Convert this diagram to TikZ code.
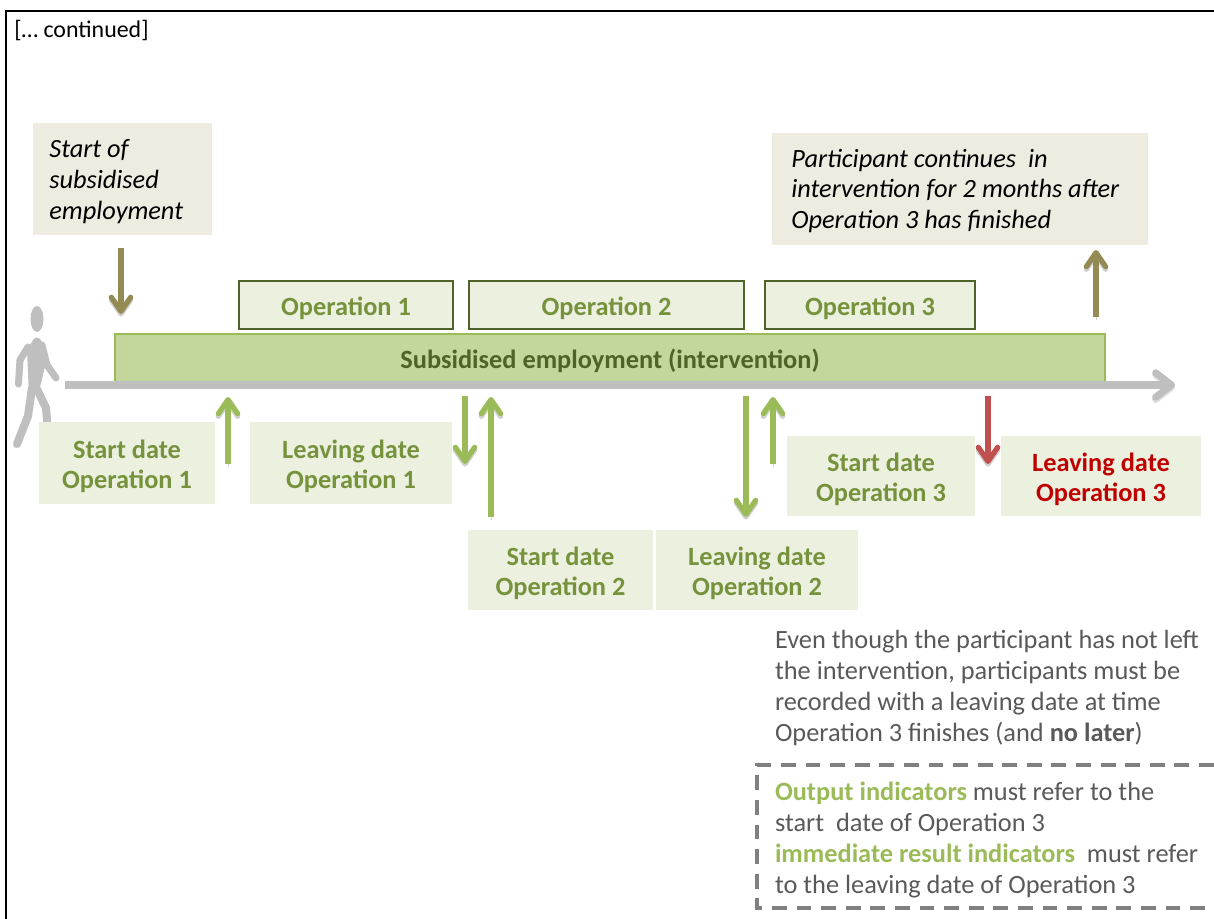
\documentclass[tikz,border=0pt]{standalone}
\usepackage{fontspec}
\setmainfont{Carlito}
\usetikzlibrary{calc,positioning,arrows.meta}
\definecolor{boxgreen}{HTML}{EBF1DE}
\definecolor{boxbeige}{HTML}{EEECE1}
\definecolor{bargreen}{HTML}{C3D69B}
\definecolor{linegreen}{HTML}{9BBB59}
\definecolor{textgreen}{HTML}{76923C}
\definecolor{darkgreen}{HTML}{4F6228}
\definecolor{arrowbrown}{HTML}{948A54}
\definecolor{arrowred}{HTML}{C0504D}
\definecolor{textred}{HTML}{C00000}
\definecolor{textgray}{HTML}{595959}
\definecolor{personcol}{HTML}{BFBFBF}
\tikzset{
  px/.style={x=0.02cm,y=-0.02cm},
  flat/.style={inner sep=0pt,outer sep=0pt,align=center,font=\fontsize{15}{17.4}\selectfont\bfseries,text=textgreen},
  datebox/.style={flat,fill=boxgreen,execute at begin node={\rule{0pt}{31.5pt}}},
  opbox/.style={flat,fill=boxgreen,draw=darkgreen,line width=0.8pt,execute at begin node={\rule{0pt}{14pt}}},
  notebox/.style={inner sep=0pt,outer sep=0pt,fill=boxbeige},
  notetext/.style={inner sep=0pt,anchor=west,align=left,font=\fontsize{15}{17.6}\selectfont\itshape},
  plaintext/.style={inner sep=0pt,outer sep=0pt,anchor=north west,align=left,text=textgray,font=\fontsize{15}{17.7}\selectfont},
  marker/.style={line width=3.2pt,-{Straight Barb[round,length=8pt,width=11pt,line width=3pt]},
    preaction={draw=black!18,transform canvas={yshift=-1.5pt}}},
  limb/.style={draw=personcol,line cap=round,line join=round}
}
\begin{document}
\begin{tikzpicture}[px]
\useasboundingbox (0,0) rectangle (1214,919);
% frame
\draw[line width=1.4pt](6,919)--(6,11)--(1214,11);
\node[inner sep=0pt,anchor=west,font=\fontsize{13.6}{16}\selectfont](cont)at(14,30){[… continued]};
% person
\fill[personcol](37,319)ellipse(6.5 and 13);
\fill[personcol,rounded corners=3pt](36,335)--(43,342)--(46,362)--(40,388)--(29,396)--(27,350)--cycle;
\draw[limb,line width=4pt](28,347)--(20,360)--(18.5,384);
\draw[limb,line width=4pt](42,345)--(47,365)--(56,378);
\draw[limb,line width=4.6pt](32,388)--(28,416)--(17,444);
\draw[limb,line width=4.6pt](36,387)--(46,408)--(49,443);
% notes on top
\node[notebox,minimum width=179*0.02cm,minimum height=112*0.02cm](startnote)at(122.5,179){};
\node[notetext](startnotetext)at(49,182){Start of\\subsidised\\employment};
\node[notebox,minimum width=376*0.02cm,minimum height=112*0.02cm](contnote)at(960,189){};
\node[notetext](contnotetext)at(791,191){Participant continues~ in\\intervention for 2 months after\\Operation 3 has finished};
% operations
\node[opbox,minimum width=214*0.02cm,minimum height=48*0.02cm](op1)at(346,305){Operation 1};
\node[opbox,minimum width=275*0.02cm,minimum height=48*0.02cm](op2)at(606.5,305){Operation 2};
\node[opbox,minimum width=210*0.02cm,minimum height=48*0.02cm](op3)at(870,305){Operation 3};
% intervention and timeline
\node[opbox,fill=bargreen,draw=linegreen,text=darkgreen,minimum width=990*0.02cm,minimum height=48*0.02cm](bar)at(610,358){Subsidised employment (intervention)};
\coordinate(tstart)at(65,385);
\coordinate(tend)at(1175,385);
\draw[personcol,line width=4.6pt,-{Straight Barb[round,length=9pt,width=14pt,line width=4pt]},preaction={draw=black!12,transform canvas={yshift=-1.3pt}}](tstart)--(tend);
% dates
\node[datebox,minimum width=176*0.02cm,minimum height=82*0.02cm](start1)at(127,463){Start date\\Operation 1};
\node[datebox,minimum width=202*0.02cm,minimum height=82*0.02cm](leave1)at(351,463){Leaving date\\Operation 1};
\node[datebox,minimum width=185*0.02cm,minimum height=80*0.02cm](start2)at(560.5,570){Start date\\Operation 2};
\node[datebox,minimum width=202*0.02cm,minimum height=80*0.02cm](leave2)at(757,570){Leaving date\\Operation 2};
\node[datebox,minimum width=188*0.02cm,minimum height=80*0.02cm](start3)at(881,476){Start date\\Operation 3};
\node[datebox,minimum width=200*0.02cm,minimum height=80*0.02cm,text=textred](leave3)at(1101,476){Leaving date\\Operation 3};
% arrows
\coordinate(a0)at(121,248);\coordinate(b0)at(121,314);
\coordinate(a1)at(1096,317);\coordinate(b1)at(1096,250);
\coordinate(a2)at(228,464);\coordinate(b2)at(228,397);
\coordinate(a3)at(465,396);\coordinate(b3)at(465,464);
\coordinate(a4)at(491,517);\coordinate(b4)at(491,397);
\coordinate(a5)at(746,396);\coordinate(b5)at(746,517);
\coordinate(a6)at(773,464);\coordinate(b6)at(773,397);
\coordinate(a7)at(988,396);\coordinate(b7)at(988,464);
\draw[marker,arrowbrown](a0)--(b0);
\draw[marker,arrowbrown](a1)--(b1);
\foreach \i in {2,...,6}{\draw[marker,linegreen](a\i)--(b\i);}
\draw[marker,arrowred](a7)--(b7);
% explanations
\node[plaintext](why)at(775,630){Even though the participant has not left\\the intervention, participants must be\\recorded with a leaving date at time\\Operation 3 finishes (and \textbf{no later})};
\draw[draw=black!50,line width=1.9pt,dash pattern=on 8.5pt off 5.5pt](1214,765)--(757,765)--(757,908)--(1214,908);
\node[plaintext](rules)at(775,782){\textcolor{linegreen}{\textbf{Output indicators}} must refer to the\\start~ date of Operation 3\\\textcolor{linegreen}{\textbf{immediate result indicators}}~ must refer\\to the leaving date of Operation 3};
\end{tikzpicture}
\end{document}
